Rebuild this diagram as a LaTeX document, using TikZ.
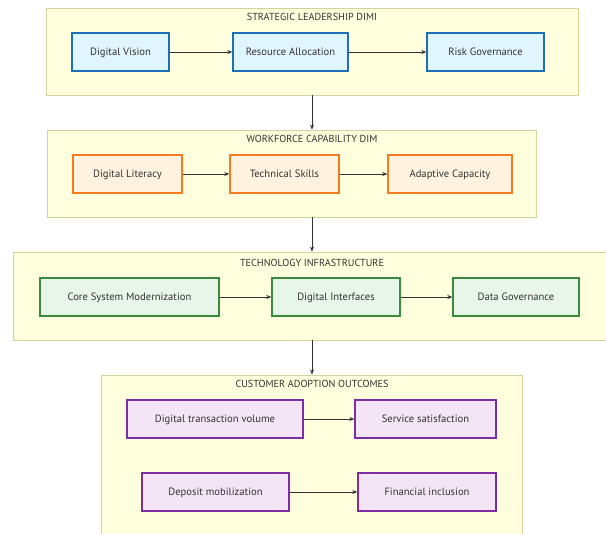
\documentclass[tikz,border=0pt]{standalone}
\usepackage{fontspec}
\setmainfont{PT Sans}
\usetikzlibrary{arrows.meta}

\definecolor{clusterfill}{HTML}{FFFFDE}
\definecolor{clusterline}{HTML}{D4D49A}
\definecolor{textgray}{HTML}{333333}
\definecolor{bluefill}{HTML}{E1F5FE}
\definecolor{blueline}{HTML}{1E6FB8}
\definecolor{orangefill}{HTML}{FFF3E0}
\definecolor{orangeline}{HTML}{F47B20}
\definecolor{greenfill}{HTML}{E8F5E9}
\definecolor{greenline}{HTML}{3A8A3E}
\definecolor{purplefill}{HTML}{F3E5F5}
\definecolor{purpleline}{HTML}{7B2FA2}
\tikzset{
	cluster/.style={draw=clusterline, fill=clusterfill, line width=0.9pt, inner sep=0pt},
	title/.style={text=textgray, font=\fontsize{10.2}{11}\selectfont, inner sep=0pt},
	box/.style={draw=#1line, fill=#1fill, line width=1.4pt, minimum height=38pt,
		text=textgray, font=\fontsize{10.6}{12}\selectfont, inner sep=0pt,
		text height=8.5pt, text depth=1.5pt},
	link/.style={-{Stealth[length=5pt,width=4pt]}, draw=textgray, line width=0.6pt},
}

\begin{document}
\begin{tikzpicture}[x=1pt,y=-1pt]
	\useasboundingbox[fill=white] (0,0) rectangle (606,534);
%
	\node[cluster, minimum width=532, minimum height=87] (lead) at (312,51.5) {};
	\node[title] (leadtitle) at (312,17) {STRATEGIC LEADERSHIP DIMI};
	\node[box=blue, minimum width=97]  (vision)   at (120.5,52) {Digital Vision};
	\node[box=blue, minimum width=115] (resource) at (290.5,52) {Resource Allocation};
	\node[box=blue, minimum width=117] (risk)     at (485.5,52) {Risk Governance};
	\draw[link] (vision) -- (resource);
	\draw[link] (resource) -- (risk);
%
	\node[cluster, minimum width=489, minimum height=87] (work) at (291.5,173.5) {};
	\node[title] (worktitle) at (312,139) {WORKFORCE CAPABILITY DIM};
	\node[box=orange, minimum width=109] (literacy) at (127.5,174) {Digital Literacy};
	\node[box=orange, minimum width=109] (skills)   at (284.5,174) {Technical Skills};
	\node[box=orange, minimum width=124] (adaptive) at (450,174)   {Adaptive Capacity};
	\draw[link] (literacy) -- (skills);
	\draw[link] (skills) -- (adaptive);
%
	\node[cluster, minimum width=600, minimum height=88] (tech) at (313,296) {};
	\node[title] (techtitle) at (312,263) {TECHNOLOGY INFRASTRUCTURE};
	\node[box=green, minimum width=179] (core)       at (129.5,297) {Core System Modernization};
	\node[box=green, minimum width=128] (interfaces) at (336,297)   {Digital Interfaces};
	\node[box=green, minimum width=126] (datagov)    at (516,297)   {Data Governance};
	\draw[link] (core) -- (interfaces);
	\draw[link] (interfaces) -- (datagov);
%
	\node[cluster, minimum width=421, minimum height=170] (adopt) at (311.5,460) {};
	\node[title] (adopttitle) at (312,384) {CUSTOMER ADOPTION OUTCOMES};
	\node[box=purple, minimum width=176] (volume)    at (215,419) {Digital transaction volume};
	\node[box=purple, minimum width=141] (satisfy)   at (425.5,419) {Service satisfaction};
	\node[box=purple, minimum width=147] (deposit)   at (215.5,492) {Deposit mobilization};
	\node[box=purple, minimum width=138] (inclusion) at (427,492) {Financial inclusion};
	\draw[link] (volume) -- (satisfy);
	\draw[link] (deposit) -- (inclusion);
%
	\draw[link] (lead.south -| leadtitle) -- (leadtitle |- work.north);
	\draw[link] (work.south -| leadtitle) -- (leadtitle |- tech.north);
	\draw[link] (tech.south -| leadtitle) -- (leadtitle |- adopt.north);
\end{tikzpicture}
\end{document}
